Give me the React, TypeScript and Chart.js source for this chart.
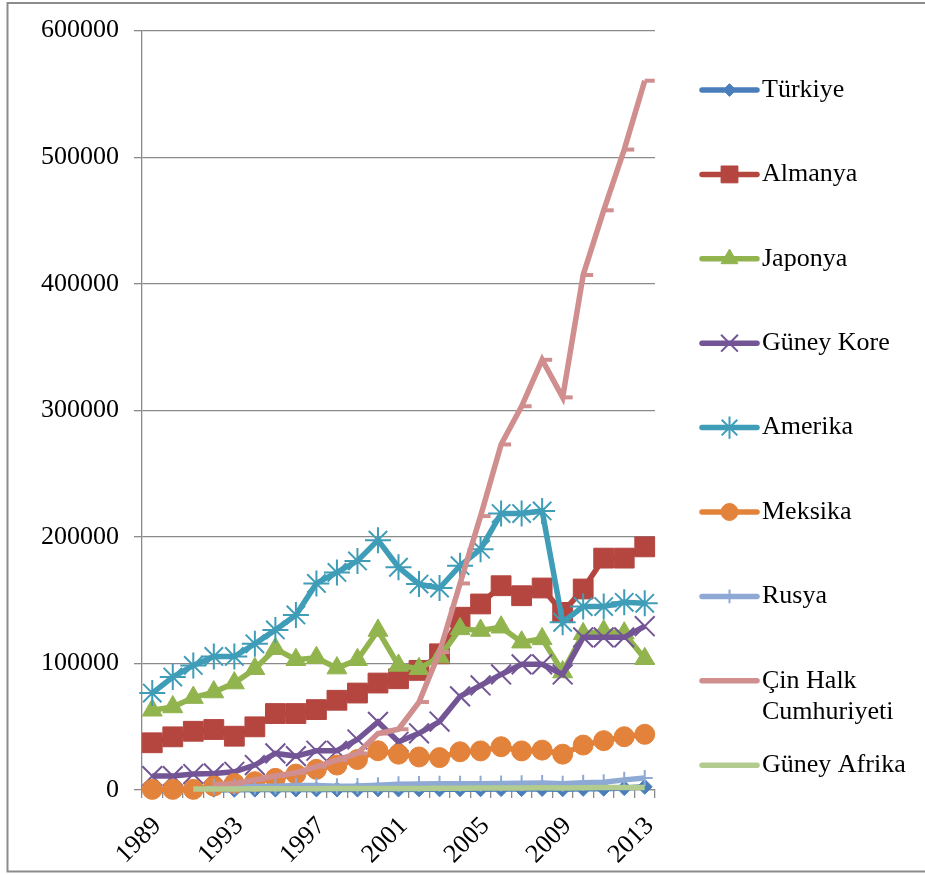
import React, { useEffect, useRef } from "react";
import { Chart, registerables } from "chart.js";
import { drawPoint } from "chart.js/helpers";

Chart.register(...registerables);

const years = [
  "1989", "1990", "1991", "1992", "1993", "1994", "1995", "1996", "1997",
  "1998", "1999", "2000", "2001", "2002", "2003", "2004", "2005", "2006",
  "2007", "2008", "2009", "2010", "2011", "2012", "2013",
];
const shownYears = ["1989", "1993", "1997", "2001", "2005", "2009", "2013"];
const yTickLabels = ["0", "100000", "200000", "300000", "400000", "500000", "600000"];

const seriesNames = [
  "Türkiye", "Almanya", "Japonya", "Güney Kore", "Amerika", "Meksika", "Rusya",
  "Çin Halk Cumhuriyeti", "Güney Afrika",
];

const turkiye = [null, null, null, 200, 200, 300, 300, 400, 400, 400, 300, 500, 400, 500, 500, 600, 600, 700, 700, 800, 600, 900, 1000, 1500, 2500];
const almanya = [37300, 42000, 46400, 47800, 42500, 49900, 60400, 60400, 63500, 70900, 76600, 84500, 87900, 94500, 107600, 136500, 147000, 161400, 153500, 159600, 140300, 158800, 183200, 183200, 192100];
const japonya = [63000, 65600, 73000, 77400, 84500, 95800, 111600, 102900, 104500, 96300, 102900, 126000, 98400, 95800, 105000, 127300, 126000, 128600, 116800, 119400, 93200, 123400, 125500, 123900, 103700];
const guneyKore = [11000, 11000, 12600, 13100, 14400, 19700, 28900, 26800, 31000, 31000, 39900, 53800, 38100, 44800, 54100, 74000, 82600, 91300, 99300, 99300, 91300, 120600, 120600, 120600, 129400];
const amerika = [76600, 89200, 98400, 105500, 105500, 115500, 126500, 138300, 163200, 171900, 181000, 197400, 176000, 162700, 159600, 177200, 190300, 218400, 218400, 220500, 132500, 144900, 144900, 148300, 147500];
const meksika = [500, 500, 500, 3100, 5200, 6600, 9200, 12600, 16300, 19700, 24100, 31000, 28300, 26100, 25600, 30200, 30900, 34200, 30900, 31500, 28300, 35500, 39000, 42100, 44000];
const rusya = [null, null, null, 2500, 2500, 2800, 3000, 3500, 3500, 3000, 3200, 3800, 4500, 4700, 5000, 5000, 5000, 5200, 5300, 5500, 5000, 5800, 6200, 8000, 9500];
const cin = [null, null, null, 3900, 5200, 7900, 11000, 13600, 18400, 23600, 28900, 44600, 48000, 69500, 108900, 163200, 216400, 273000, 303200, 339900, 310200, 406900, 458000, 506000, 560400];
const guneyAfrika = [null, null, 700, 800, 800, 900, 1000, 1000, 1000, 1100, 1100, 1200, 1200, 1200, 1300, 1400, 1500, 1500, 1600, 1700, 1600, 1800, 1900, 2000, 2000];

const seriesValues = [turkiye, almanya, japonya, guneyKore, amerika, meksika, rusya, cin, guneyAfrika];
const seriesColors = ["#4A7EBB", "#B4453F", "#92B44E", "#735596", "#3F9DB8", "#E3823A", "#8EA9D4", "#D08E8E", "#B2CB8E"];
const seriesStyles = ["rectRot", "rect", "triangle", "crossRot", "star", "circle", "cross", "dash", "circle"];
const seriesRadius = [7.5, 14, 11.5, 14, 13, 10, 8, 10, 0];
const seriesPointBorder = [1, 1, 1, 2, 2, 1, 2, 4, 0];

const FONT = { family: "'Liberation Serif', 'Times New Roman', serif", size: 26 };
const GRID = "#8a8a8a";

const legendPlugin = {
  id: "sideLegend",
  afterDraw(chart: any) {
    const ctx = chart.ctx;
    ctx.save();
    // outer frame
    ctx.strokeStyle = "#8c8c8c";
    ctx.lineWidth = 2;
    ctx.beginPath();
    ctx.moveTo(930, 3);
    ctx.lineTo(7.5, 3);
    ctx.lineTo(7.5, 871.5);
    ctx.lineTo(930, 871.5);
    ctx.stroke();

    const x0 = 702;
    const x1 = 757;
    const xm = (x0 + x1) / 2;
    chart.data.datasets.forEach((ds: any, i: number) => {
      const y = 90 + 84.4 * i;
      ctx.strokeStyle = ds.borderColor;
      ctx.lineWidth = 5.5;
      ctx.lineCap = "round";
      ctx.beginPath();
      ctx.moveTo(x0, y);
      ctx.lineTo(x1, y);
      ctx.stroke();
      if (ds.pointRadius > 0 && ds.pointStyle !== "dash") {
        ctx.lineCap = "butt";
        ctx.fillStyle = ds.pointBackgroundColor;
        ctx.strokeStyle = ds.pointBorderColor;
        ctx.lineWidth = ds.pointBorderWidth;
        drawPoint(ctx, { pointStyle: ds.pointStyle, rotation: 0, radius: ds.pointRadius * 0.85, borderWidth: ds.pointBorderWidth }, xm, y);
      }
      ctx.fillStyle = "#000";
      ctx.font = `${FONT.size}px ${FONT.family}`;
      ctx.textAlign = "left";
      ctx.textBaseline = "middle";
      const label: string = ds.label;
      if (label === "Çin Halk Cumhuriyeti") {
        ctx.fillText("Çin Halk", 762, y);
        ctx.fillText("Cumhuriyeti", 762, y + 31.5);
      } else {
        ctx.fillText(label, 762, y);
      }
    });
    ctx.restore();
  },
};

export default function App() {
  const ref = useRef<HTMLCanvasElement | null>(null);
  useEffect(() => {
    document.body.style.margin = "0";
    const canvas = ref.current;
    if (!canvas) return;
    const datasets = seriesNames.map((name, i) => ({
      label: name,
      data: seriesValues[i],
      borderColor: seriesColors[i],
      backgroundColor: seriesColors[i],
      pointBackgroundColor: seriesColors[i],
      pointBorderColor: seriesColors[i],
      pointStyle: seriesStyles[i],
      pointRadius: seriesRadius[i],
      pointBorderWidth: seriesPointBorder[i],
      borderWidth: 5.5,
      tension: 0,
      fill: false,
      clip: false,
      order: seriesNames.length - i,
      spanGaps: false,
    }));
    const chart = new Chart(canvas, {
      type: "line",
      data: { labels: years, datasets },
      options: {
        responsive: false,
        animation: false,
        events: [],
        layout: { padding: { left: 8, top: 28, right: 270, bottom: 4 } },
        plugins: { legend: { display: false }, tooltip: { enabled: false } },
        scales: {
          x: {
            type: "category",
            offset: true,
            grid: { offset: true, drawOnChartArea: false, drawTicks: true, tickLength: 8, color: GRID, lineWidth: 1.3 },
            border: { display: true, color: GRID, width: 1.3 },
            ticks: {
              autoSkip: false,
              minRotation: 45,
              maxRotation: 45,
              padding: 13,
              labelOffset: 5,
              color: "#000",
              font: FONT,
              callback: (_v: any, i: number) => (shownYears.includes(years[i]) ? years[i] : ""),
            },
            afterFit: (s: any) => { s.height = 81; },
          },
          y: {
            min: 0,
            max: 600000,
            grid: { color: GRID, lineWidth: 1.3, tickLength: 8, drawTicks: true },
            border: { display: true, color: GRID, width: 1.3 },
            ticks: {
              stepSize: 100000,
              padding: 15,
              color: "#000",
              font: FONT,
              callback: (_v: any, i: number) => yTickLabels[i],
            },
            afterFit: (s: any) => { s.width = 134; },
          },
        },
      },
      plugins: [legendPlugin],
    } as any);
    return () => chart.destroy();
  }, []);
  return (
    <div style={{ width: 925, height: 875 }}>
      <canvas ref={ref} width={925} height={875} style={{ display: "block", width: 925, height: 875 }} />
    </div>
  );
}
